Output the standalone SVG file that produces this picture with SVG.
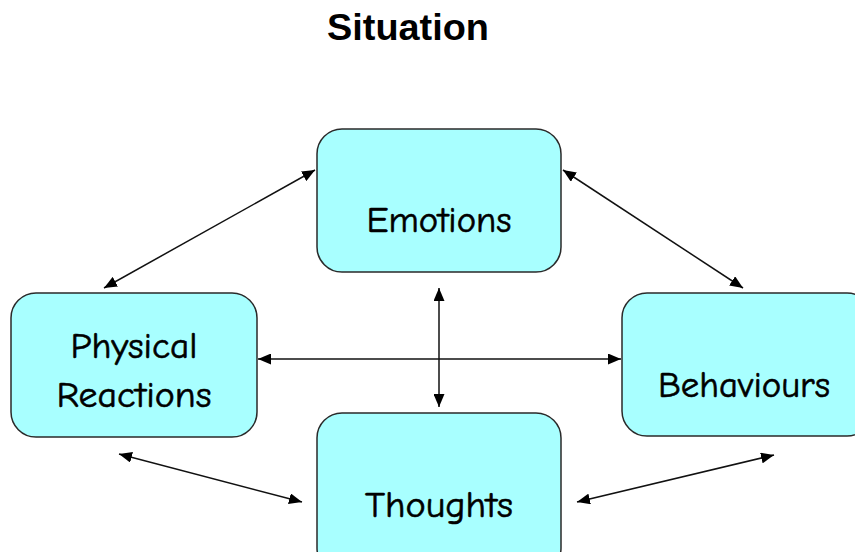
<svg xmlns="http://www.w3.org/2000/svg" width="855" height="552" viewBox="0 0 855 552">
<style>
.box{fill:#a8ffff;stroke:#2a2a2a;stroke-width:1.5}
.lbl{font-family:"Comic Sans MS","Comic Neue","DejaVu Sans",sans-serif;font-size:36px;fill:#000;stroke:#000;stroke-width:0.6;text-anchor:middle}
.title{font-family:"Liberation Sans",Arial,sans-serif;font-weight:bold;font-size:37px;fill:#000;text-anchor:middle}
.con{stroke:#111;stroke-width:1.5;fill:none;marker-start:url(#ah);marker-end:url(#ah)}
</style>
<defs>
<marker id="ah" viewBox="0 0 13 11" refX="13" refY="5.5" markerWidth="13" markerHeight="11" markerUnits="userSpaceOnUse" orient="auto-start-reverse">
<path d="M0,0 L13,5.5 L0,11 Z" fill="#000"/>
</marker>
</defs>
<rect width="855" height="552" fill="#fff"/>
<text class="title" x="408" y="40" textLength="162" lengthAdjust="spacingAndGlyphs">Situation</text>
<g id="connectors">
<line class="con" x1="104" y1="288" x2="315" y2="170"/>
<line class="con" x1="563" y1="170" x2="743" y2="288"/>
<line class="con" x1="258" y1="359" x2="621" y2="359"/>
<line class="con" x1="439" y1="288" x2="439" y2="407"/>
<line class="con" x1="119" y1="454" x2="302" y2="502"/>
<line class="con" x1="577" y1="502" x2="774" y2="455"/>
</g>
<g id="emotions">
<rect class="box" x="317" y="129" width="244" height="143" rx="25" ry="25"/>
<text class="lbl" x="439" y="232" textLength="145" lengthAdjust="spacingAndGlyphs">Emotions</text>
</g>
<g id="physical">
<rect class="box" x="11" y="293" width="246" height="144" rx="25" ry="25"/>
<text class="lbl" x="134" y="358" textLength="127" lengthAdjust="spacingAndGlyphs">Physical</text>
<text class="lbl" x="134" y="407" textLength="155" lengthAdjust="spacingAndGlyphs">Reactions</text>
</g>
<g id="behaviours">
<rect class="box" x="622" y="293" width="250" height="143" rx="25" ry="25"/>
<text class="lbl" x="744" y="397" textLength="172" lengthAdjust="spacingAndGlyphs">Behaviours</text>
</g>
<g id="thoughts">
<rect class="box" x="317" y="413" width="244" height="160" rx="25" ry="25"/>
<text class="lbl" x="439" y="517" textLength="148" lengthAdjust="spacingAndGlyphs">Thoughts</text>
</g>
</svg>
